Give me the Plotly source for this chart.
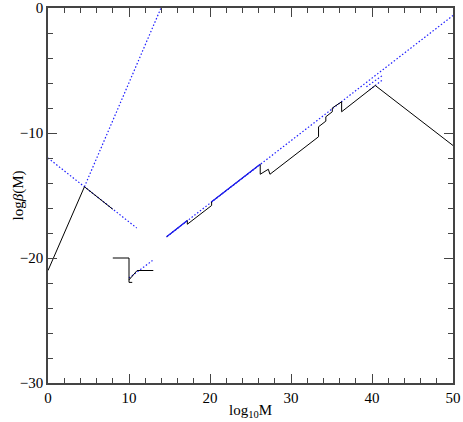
import plotly.graph_objects as go

# black curve pieces (log10 M, log beta)
blk_left_x = [0, 4.5, 8.0]
blk_left_y = [-21.0, -14.3, -16.1]

blk_step_x = [8.0, 10.0, 10.0, 10.4]
blk_step_y = [-20.0, -20.0, -21.95, -21.95]

blk_hook_x = [10.0, 11.0, 13.0]
blk_hook_y = [-21.75, -21.0, -21.0]

blk_main_x = [14.65, 17.2, 17.2, 20.2, 20.2, 26.2, 26.2, 27.2, 27.4, 33.4, 33.4,
              34.3, 34.3, 35.1, 35.1, 36.25, 36.25, 40.4, 50.0]
blk_main_y = [-18.3, -17.0, -17.3, -15.8, -15.5, -12.5, -13.3, -12.9, -13.3, -10.3, -9.5,
              -9.05, -8.7, -8.3, -8.0, -7.5, -8.3, -6.2, -11.0]

# blue dotted guides
blu_a_x = [0, 10.95]
blu_a_y = [-12.0, -17.6]
blu_b_x = [4.5, 13.95]
blu_b_y = [-14.3, 0.0]
blu_c_x = [10.0, 12.9]
blu_c_y = [-21.6, -20.2]
blu_main_x = [14.65, 50.0]
blu_main_y = [-18.3, -0.6]
blu_d_x = [39.3, 41.4]
blu_d_y = [-6.3, -5.35]
blu_e_x = [39.7, 41.4]
blu_e_y = [-6.55, -5.7]

# blue solid where it sits on the black curve
blu_solid_x = [14.65, 17.2, None, 20.2, 26.2]
blu_solid_y = [-18.3, -17.0, None, -15.5, -12.5]

BLUE = "#1f1fff"
FONT = dict(family="Liberation Serif", size=15, color="black")
fig = go.Figure()


def add(x, y, color, dash="solid", width=1):
    fig.add_trace(go.Scatter(x=x, y=y, mode="lines", showlegend=False, hoverinfo="skip",
                             line=dict(color=color, dash=dash, width=width)))


for bx, by in [(blu_a_x, blu_a_y), (blu_b_x, blu_b_y), (blu_c_x, blu_c_y),
               (blu_main_x, blu_main_y), (blu_d_x, blu_d_y), (blu_e_x, blu_e_y)]:
    add(bx, by, BLUE, dash="1.5px,2px", width=1.2)

for kx, ky in [(blk_left_x, blk_left_y), (blk_step_x, blk_step_y),
               (blk_hook_x, blk_hook_y), (blk_main_x, blk_main_y)]:
    add(kx, ky, "black")

add(blu_solid_x, blu_solid_y, BLUE, width=1.2)

axis_common = dict(
    showgrid=False, zeroline=False, showline=True, linecolor="#444", linewidth=1.5,
    mirror="ticks", ticks="inside", ticklen=9, tickcolor="#444", tickwidth=1,
    tickfont=FONT, automargin=False,
)

fig.update_xaxes(range=[0, 50], dtick=10, minor=dict(dtick=2, ticks="inside", ticklen=5,
                 tickcolor="#444"), **axis_common)
fig.update_yaxes(range=[-30, 0], minor=dict(dtick=2, ticks="inside", ticklen=5,
                 tickcolor="#444"),
                 tickvals=[0, -10, -20, -30], ticktext=["0", "\u221210", "\u221220", "\u221230"],
                 **axis_common)

fig.add_annotation(text="log<sub>10</sub>M", xref="paper", yref="paper", x=0.5, y=0,
                   yshift=-28, yanchor="middle", showarrow=False, font=FONT)
fig.add_annotation(text="log<i>\u03b2</i>(M)", xref="paper", yref="paper", x=0, y=0.5,
                   xshift=-30, xanchor="center", textangle=-90, showarrow=False, font=FONT)

fig.update_layout(
    width=463, height=422,
    margin=dict(l=48, r=10, t=8, b=39),
    plot_bgcolor="white", paper_bgcolor="white",
)

# drop the page's default body margin so the figure sits at the window corner
fig.write_html("out.html", config={"displayModeBar": False},
               post_script="document.body.style.margin='0';")
